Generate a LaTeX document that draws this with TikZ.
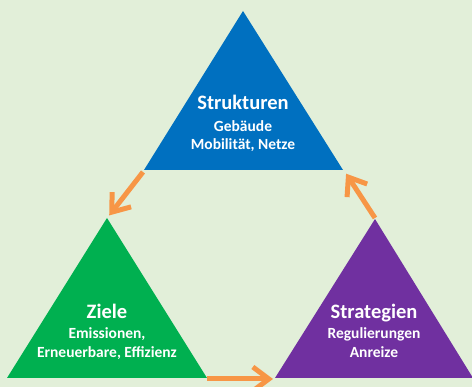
\documentclass[tikz,border=0pt]{standalone}
\usepackage{fontspec}
\setmainfont{Carlito}
\usetikzlibrary{arrows.meta}
\definecolor{bgc}{HTML}{E2EFD9}
\definecolor{tblue}{HTML}{0070C0}
\definecolor{tgreen}{HTML}{00B050}
\definecolor{tpurple}{HTML}{7030A0}
\definecolor{torange}{HTML}{F79646}
\tikzset{
  titletext/.style={text=white, font=\bfseries\fontsize{20.5}{24}\selectfont, anchor=base, inner sep=0pt},
  subtext/.style={text=white, font=\bfseries\fontsize{15.5}{18}\selectfont, anchor=base, inner sep=0pt},
  cyclearrow/.style={draw=torange, line width=5pt, -{Straight Barb[length=16pt,width=24pt]}, shorten >=2pt},
}
\begin{document}
\begin{tikzpicture}[x=1pt,y=-1pt]
\fill[bgc] (0,0) rectangle (472,387);
\useasboundingbox (0,0) rectangle (472,387);
% corners
\coordinate (bT) at (243,11);
\coordinate (bL) at (144,170);
\coordinate (bR) at (343,170);
\coordinate (gT) at (107,218);
\coordinate (gL) at (7,378);
\coordinate (gR) at (207,378);
\coordinate (pT) at (375,219);
\coordinate (pL) at (275,378);
\coordinate (pR) at (473,378);
\fill[tblue] (bT) -- (bL) -- (bR) -- cycle;
\fill[tgreen] (gT) -- (gL) -- (gR) -- cycle;
\fill[tpurple] (pT) -- (pL) -- (pR) -- cycle;
% texts
\node[titletext] (s1) at (243,110) {Strukturen};
\node[subtext] (s2) at (243,132) {Gebäude};
\node[subtext] (s3) at (243,150) {Mobilität, Netze};
\node[titletext] (z1) at (107,319) {Ziele};
\node[subtext] (z2) at (107,339) {Emissionen,};
\node[subtext] (z3) at (107,358) {Erneuerbare, Effizienz};
\node[titletext] (t1) at (374,319) {Strategien};
\node[subtext] (t2) at (374,339) {Regulierungen};
\node[subtext] (t3) at (374,358) {Anreize};
% arrows
\coordinate (a1s) at (143,172);
\coordinate (a1e) at (108,217);
\coordinate (a2s) at (207,379);
\coordinate (a2e) at (275,379);
\coordinate (a3s) at (375,218);
\coordinate (a3e) at (345,172);
\draw[cyclearrow] (a1s) -- (a1e);
\draw[cyclearrow] (a2s) -- (a2e);
\draw[cyclearrow] (a3s) -- (a3e);
\end{tikzpicture}
\end{document}
